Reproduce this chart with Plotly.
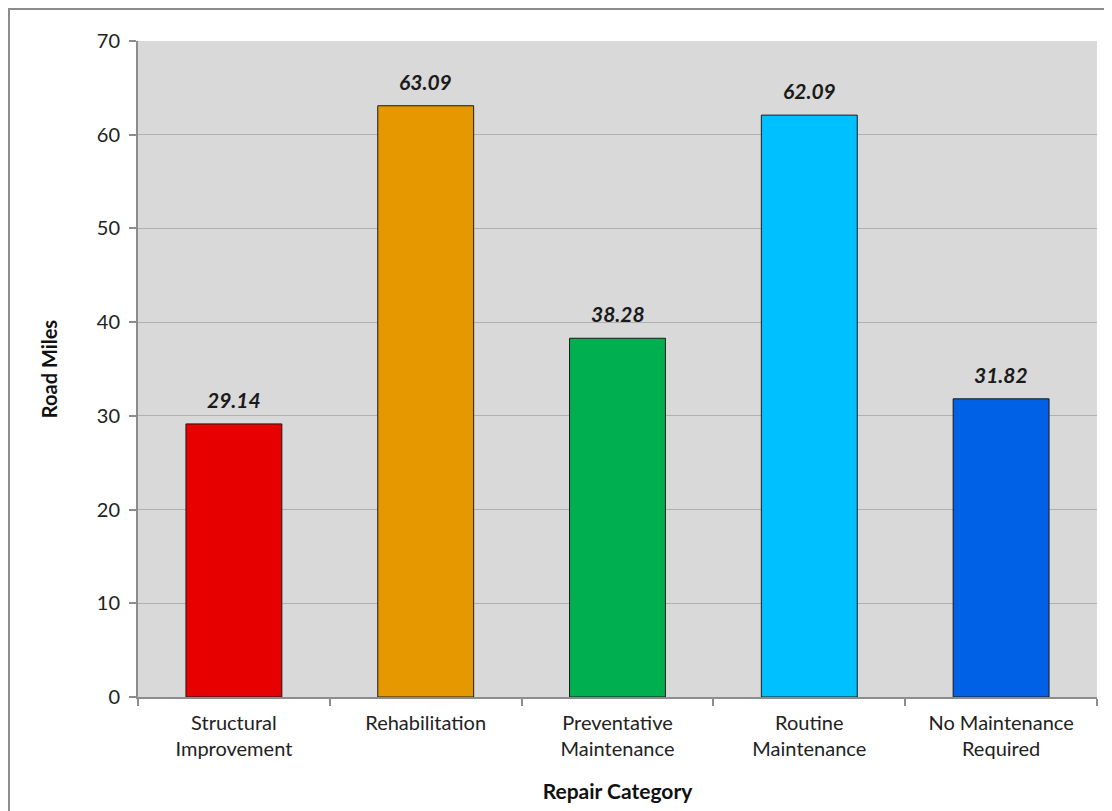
import plotly.graph_objects as go

categories = ["Structural<br>Improvement", "Rehabilitation", "Preventative<br>Maintenance",
              "Routine<br>Maintenance", "No Maintenance<br>Required"]
values = [29.14, 63.09, 38.28, 62.09, 31.82]
colors = ["#e60000", "#e69800", "#00b050", "#00c0ff", "#0060e6"]
y_ticks = [0, 10, 20, 30, 40, 50, 60, 70]

FONT = "Lato, 'Open Sans', sans-serif"

fig = go.Figure(go.Bar(
    x=categories, y=values,
    marker=dict(color=colors, line=dict(color="#1a1a1a", width=1)),
    cliponaxis=False,
))

for c, v in zip(categories, values):
    fig.add_annotation(x=c, y=v, text=f"<b><i>{v:.2f}</i></b>", showarrow=False,
                       yanchor="bottom", yshift=10,
                       font=dict(family=FONT, size=21, color="#1a1a1a"))

fig.update_layout(
    width=1104, height=803,
    margin=dict(l=130, r=15, t=33, b=114),
    paper_bgcolor="white", plot_bgcolor="#d9d9d9",
    bargap=0.5,
    showlegend=False,
    font=dict(family=FONT, color="#222"),
    xaxis=dict(
        showgrid=False, showline=True, linecolor="#8c8c8c", linewidth=2,
        ticks="outside", tickson="boundaries", ticklen=7, tickcolor="#8c8c8c", tickwidth=2,
        ticklabelstandoff=7,
        tickfont=dict(family=FONT, size=20, color="#222"),
        title=dict(text="<b>Repair Category</b>", font=dict(family=FONT, size=21, color="#111"), standoff=25),
    ),
    yaxis=dict(
        range=[0, 70], tickvals=y_ticks, showgrid=True, gridcolor="#b0b0b0", gridwidth=1,
        showline=True, linecolor="#8c8c8c", linewidth=2,
        ticks="outside", ticklen=7, tickcolor="#8c8c8c", tickwidth=2,
        ticklabelstandoff=5,
        tickfont=dict(family=FONT, size=20, color="#222"),
        title=dict(text="<b>Road Miles</b>", font=dict(family=FONT, size=20, color="#111"), standoff=34),
        zeroline=False,
    ),
    shapes=[dict(type="rect", xref="paper", yref="paper",
                 x0=(1 - 130) / 959, x1=(1120 - 130) / 959,
                 y0=(689 - 820) / 656, y1=(689 - 1) / 656,
                 line=dict(color="#8c8c8c", width=2), fillcolor="rgba(0,0,0,0)", layer="below")],
)

fig.write_html("out.html")
